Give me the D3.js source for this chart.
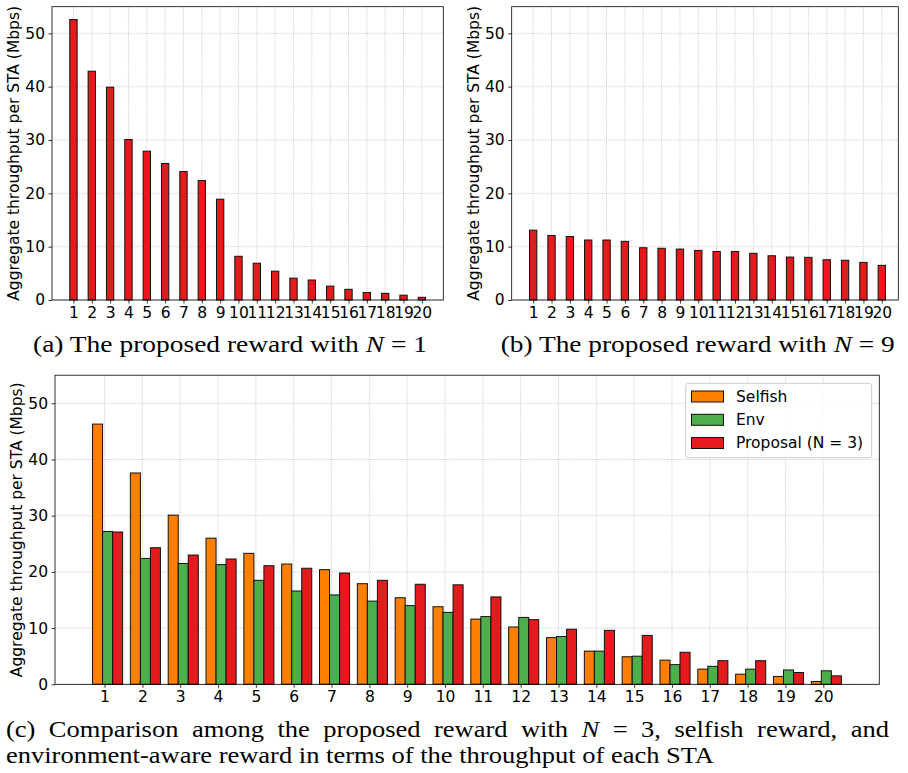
<!DOCTYPE html>
<html>
<head>
<meta charset="utf-8">
<script src="https://cdn.jsdelivr.net/npm/d3@7"></script>
<style>
  body { margin: 0; background: #fff; }
  svg { display: block; }
  .tick text { font-family: "DejaVu Sans", sans-serif; font-size: 15.5px; fill: #000; }
  .tick line { stroke: #000; stroke-width: 0.8; }
  .domain { display: none; }
  .cap { font-family: "Liberation Serif", "Times New Roman", serif; font-size: 23px; fill: #000; }
</style>
</head>
<body>
<div id="chart"></div>
<script>
// Station labels (x axis)
var staLabels = ["1","2","3","4","5","6","7","8","9","10","11","12","13","14","15","16","17","18","19","20"];
var staPos = [1,2,3,4,5,6,7,8,9,10,11,12,13,14,15,16,17,18,19,20];

// (a) proposed reward with N = 1
var rewardN1 = [52.6, 42.9, 39.9, 30.1, 27.9, 25.6, 24.1, 22.4, 18.9, 8.2, 6.9, 5.4, 4.1, 3.75, 2.6, 2.0, 1.4, 1.25, 0.9, 0.5];
// (b) proposed reward with N = 9
var rewardN9 = [13.1, 12.1, 11.9, 11.25, 11.25, 11.0, 9.8, 9.7, 9.55, 9.3, 9.1, 9.1, 8.75, 8.3, 8.05, 8.0, 7.55, 7.45, 7.05, 6.5];
// (c) comparison
var selfish = [46.3, 37.6, 30.1, 26.0, 23.3, 21.4, 20.4, 17.9, 15.4, 13.8, 11.6, 10.2, 8.3, 5.9, 4.9, 4.3, 2.7, 1.8, 1.4, 0.5];
var env = [27.2, 22.4, 21.5, 21.3, 18.5, 16.6, 15.9, 14.8, 14.0, 12.8, 12.05, 11.9, 8.5, 5.9, 5.0, 3.5, 3.2, 2.7, 2.55, 2.4];
var proposalN3 = [27.1, 24.3, 23.0, 22.3, 21.1, 20.65, 19.8, 18.5, 17.8, 17.7, 15.55, 11.5, 9.8, 9.6, 8.7, 5.7, 4.2, 4.2, 2.1, 1.5];

var seriesNames = ["Selfish", "Env", "Proposal (N = 3)"];
var seriesColors = ["#ff7f00", "#4daf4a", "#e41a1c"];
var yTicks = [0, 10, 20, 30, 40, 50];
var yLabel = "Aggregate throughput per STA (Mbps)";

var svg = d3.select("#chart").append("svg")
  .attr("width", 908)
  .attr("height", 773);

// Draws one panel: frame, grid, bars, axes
function drawPanel(p) {
  var x = d3.scaleLinear().domain(p.xDomain).range([p.left, p.right]);
  var y = d3.scaleLinear().domain([0, 55]).range([p.bottom, p.top]);
  var g = svg.append("g");

  // grid
  g.selectAll(".vgrid").data(staPos).enter().append("line")
    .attr("x1", d => x(d)).attr("x2", d => x(d))
    .attr("y1", p.top).attr("y2", p.bottom)
    .attr("stroke", "#b0b0b0").attr("stroke-width", 0.8)
    .attr("stroke-dasharray", "0.8,1.3");
  g.selectAll(".hgrid").data(yTicks).enter().append("line")
    .attr("x1", p.left).attr("x2", p.right)
    .attr("y1", d => y(d)).attr("y2", d => y(d))
    .attr("stroke", "#b0b0b0").attr("stroke-width", 0.8)
    .attr("stroke-dasharray", "0.8,1.3");

  // bars for each series
  p.series.forEach(function(s) {
    g.selectAll(null).data(s.values).enter().append("rect")
      .attr("x", (d, i) => x(staPos[i] + s.offset - p.barWidth / 2))
      .attr("width", x(p.barWidth) - x(0))
      .attr("y", d => y(d))
      .attr("height", d => y(0) - y(d))
      .attr("fill", s.color)
      .attr("stroke", "#111")
      .attr("stroke-width", 1);
  });

  // axes
  g.append("g").attr("transform", "translate(0," + p.bottom + ")")
    .call(d3.axisBottom(x).tickValues(staPos).tickFormat((d, i) => staLabels[i])
      .tickSize(3.5).tickPadding(3.5));
  g.append("g").attr("transform", "translate(" + p.left + ",0)")
    .call(d3.axisLeft(y).tickValues(yTicks).tickFormat(d3.format("d"))
      .tickSize(3.5).tickPadding(3.5));

  // frame
  g.append("rect")
    .attr("x", p.left).attr("y", p.top)
    .attr("width", p.right - p.left).attr("height", p.bottom - p.top)
    .attr("fill", "none").attr("stroke", "#000").attr("stroke-width", 0.8);

  // y label
  g.append("text")
    .attr("transform", "translate(" + p.labelX + "," + ((p.top + p.bottom) / 2) + ") rotate(-90)")
    .attr("text-anchor", "middle")
    .attr("dy", "0.35em")
    .style("font-family", "DejaVu Sans, sans-serif")
    .style("font-size", "15.5px")
    .text(yLabel);
  return g;
}

drawPanel({
  left: 52, right: 443.3, top: 6.7, bottom: 300, xDomain: [-0.17, 21.17],
  barWidth: 0.4, labelX: 14,
  series: [{values: rewardN1, color: "#e41a1c", offset: 0}]
});

drawPanel({
  left: 511.7, right: 898.3, top: 6.7, bottom: 300, xDomain: [-0.17, 20.9],
  barWidth: 0.4, labelX: 474,
  series: [{values: rewardN9, color: "#e41a1c", offset: 0}]
});

drawPanel({
  left: 55, right: 879.3, top: 375.2, bottom: 684.3, xDomain: [-0.31, 21.48],
  barWidth: 0.265, labelX: 16.5,
  series: [
    {values: selfish, color: seriesColors[0], offset: -0.185},
    {values: env, color: seriesColors[1], offset: 0.08},
    {values: proposalN3, color: seriesColors[2], offset: 0.345}
  ]
});

// legend
var legend = svg.append("g");
legend.append("rect")
  .attr("x", 685.7).attr("y", 383.3).attr("width", 186).attr("height", 74.4)
  .attr("rx", 3).attr("fill", "#fff").attr("fill-opacity", 0.8)
  .attr("stroke", "#cccccc").attr("stroke-width", 1);
var legendRows = [391, 414.3, 437.5];
seriesNames.forEach(function(name, i) {
  legend.append("rect")
    .attr("x", 691.5).attr("y", legendRows[i]).attr("width", 32).attr("height", 11)
    .attr("fill", seriesColors[i]).attr("stroke", "#111").attr("stroke-width", 1);
  legend.append("text")
    .attr("x", 736).attr("y", legendRows[i] + 5.5).attr("dy", "0.35em")
    .style("font-family", "DejaVu Sans, sans-serif")
    .style("font-size", "15.5px")
    .text(name);
});

// captions (LaTeX-like serif)
function caption(x, yBase, width, parts) {
  var t = svg.append("text").attr("class", "cap")
    .attr("x", x).attr("y", yBase);
  parts.forEach(function(pt) {
    t.append("tspan").style("font-style", pt.italic ? "italic" : "normal").text(pt.text);
  });
  t.attr("textLength", width).attr("lengthAdjust", "spacingAndGlyphs");
  return t;
}

caption(33, 351.5, 394, [{text: "(a) The proposed reward with "}, {text: "N", italic: true}, {text: " = 1"}]);
caption(500.7, 351.5, 394, [{text: "(b) The proposed reward with "}, {text: "N", italic: true}, {text: " = 9"}]);

// (c) line 2, natural width
var line2Text = "environment-aware reward in terms of the throughput of each STA";
caption(6, 763.3, 708, [{text: line2Text}]);

// (c) line 1, justified word by word
var probe = svg.append("text").attr("class", "cap").text(line2Text);
var k = 708 / probe.node().getComputedTextLength();
probe.remove();

var words = ["(c)", "Comparison", "among", "the", "proposed", "reward", "with", "N", "=", "3,", "selfish", "reward,", "and"];
var widths = words.map(function(w) {
  var tmp = svg.append("text").attr("class", "cap")
    .style("font-style", w === "N" ? "italic" : "normal").text(w);
  var wd = tmp.node().getComputedTextLength() * k;
  tmp.remove();
  return wd;
});
var gap = (889 - 6 - d3.sum(widths)) / (words.length - 1);
var cx = 6;
words.forEach(function(w, i) {
  svg.append("text").attr("class", "cap")
    .attr("x", cx).attr("y", 736.7)
    .attr("textLength", widths[i]).attr("lengthAdjust", "spacingAndGlyphs")
    .style("font-style", w === "N" ? "italic" : "normal")
    .text(w);
  cx += widths[i] + gap;
});
</script>
</body>
</html>
